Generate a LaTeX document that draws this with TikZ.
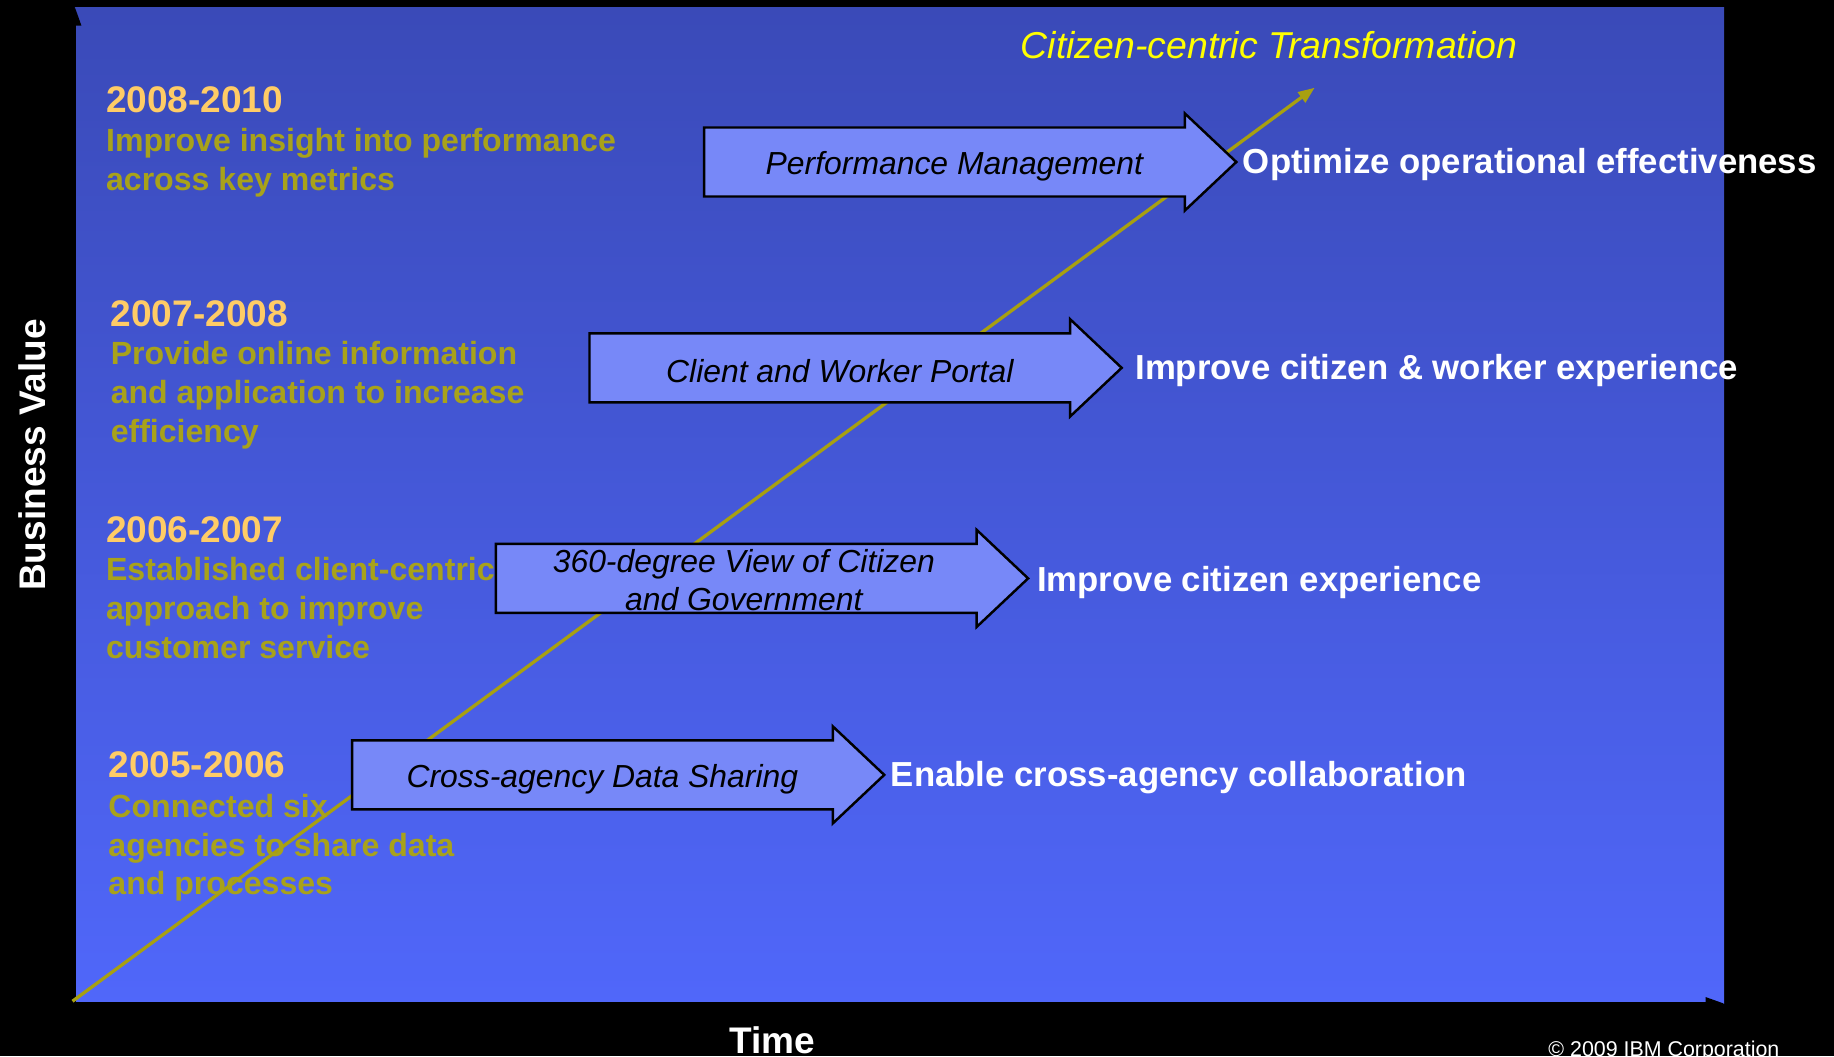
\documentclass[tikz,border=0pt]{standalone}
\usepackage{fontspec}
\setmainfont{Liberation Sans}
\usepackage{tikz}
\usetikzlibrary{arrows.meta}
\definecolor{paneltop}{HTML}{3A4AB8}
\definecolor{panelbottom}{HTML}{5067FA}
\definecolor{boxfill}{HTML}{7788F8}
\definecolor{goalolive}{HTML}{A8A21A}
\definecolor{yeargold}{HTML}{FFCC66}
\definecolor{titleyellow}{HTML}{FFFF00}
\definecolor{trendolive}{HTML}{A8A010}

\begin{document}
\begin{tikzpicture}[x=0.01cm, y=-0.01cm,
  year/.style={anchor=west, inner sep=0pt, text=yeargold,
    font=\fontsize{9}{11}\selectfont\bfseries},
  goal/.style={anchor=north west, inner sep=0pt, align=left, text=goalolive,
    font=\fontsize{7.8}{9.47}\selectfont\bfseries},
  result/.style={anchor=west, inner sep=0pt, text=white,
    font=\fontsize{8.45}{10}\selectfont\bfseries},
  boxlabel/.style={inner sep=0pt, align=center,
    font=\fontsize{7.75}{9.1}\selectfont\itshape},
  boxarrow/.style={draw=black, fill=boxfill, line width=0.6pt},
  axislabel/.style={text=white, font=\fontsize{9}{11}\selectfont\bfseries},
  trend/.style={draw=trendolive, line width=0.8pt,
    -{Triangle[length=4pt, width=3pt]}},
  axis/.style={draw=black, line width=0.6pt,
    -{Triangle[length=4.5pt, width=3pt]}}]

  % Fondo e pannello
  \fill[black] (0,0) rectangle (1568,903);
  \useasboundingbox (0,0) rectangle (1568,903);
  \shade[top color=paneltop, bottom color=panelbottom] (64,6) rectangle (1474,858);

  % Assi
  \coordinate (O) at (64,858);
  \coordinate (Ytop) at (64,6);
  \coordinate (Xend) at (1474,858);
  \draw[axis] (O) -- (Ytop);
  \draw[axis] (O) -- (Xend);

  % Linea di tendenza
  \coordinate (start) at (62,856);
  \coordinate (peak) at (1124,75);
  \draw[trend] (start) -- (peak);

  % Frecce blocco
  \draw[boxarrow] (602,109) -- ++(411,0) -- ++(0,-12) -- ++(44,41.5)
    -- ++(-44,41.5) -- ++(0,-12) -- ++(-411,0) -- cycle;
  \draw[boxarrow] (504,285) -- ++(411,0) -- ++(0,-12) -- ++(44,41.5)
    -- ++(-44,41.5) -- ++(0,-12) -- ++(-411,0) -- cycle;
  \draw[boxarrow] (424,465) -- ++(411,0) -- ++(0,-12) -- ++(44,41.5)
    -- ++(-44,41.5) -- ++(0,-12) -- ++(-411,0) -- cycle;
  \draw[boxarrow] (301,633) -- ++(411,0) -- ++(0,-12) -- ++(44,41.5)
    -- ++(-44,41.5) -- ++(0,-12) -- ++(-411,0) -- cycle;

  % Etichette frecce
  \node[boxlabel] (perf)   at (816,142) {Performance Management};
  \node[boxlabel] (portal) at (718,317) {Client and Worker Portal};
  \node[boxlabel] (view)   at (636,496) {360-degree View of Citizen\\and Government};
  \node[boxlabel] (share)  at (515,666) {Cross-agency Data Sharing};

  % Risultati
  \node[result] (optimize) at (1062,141) {Optimize operational effectiveness};
  \node[result] (worker)   at (970,317)  {Improve citizen \& worker experience};
  \node[result] (citizen)  at (886,498)  {Improve citizen experience};
  \node[result] (enable)   at (761,665)  {Enable cross-agency collaboration};

  % Periodi
  \node[year] (y08) at (90,85)  {2008-2010};
  \node[goal] (g08) at (90,109) {Improve insight into performance\\across key metrics};
  \node[year] (y07) at (94,268) {2007-2008};
  \node[goal] (g07) at (94,291) {Provide online information\\and application to increase\\efficiency};
  \node[year] (y06) at (90,453) {2006-2007};
  \node[goal] (g06) at (90,476) {Established client-centric\\approach to improve\\customer service};
  \node[year] (y05) at (92,654) {2005-2006};
  \node[goal] (g05) at (92,678) {Connected six\\agencies to share data\\and processes};

  % Titolo e assi
  \node[text=titleyellow, font=\fontsize{9.1}{11}\selectfont\itshape] (title)
    at (1085,39) {Citizen-centric Transformation};
  \node[axislabel] (time) at (660,889) {Time};
  \node[axislabel, rotate=90] (value) at (28,389) {Business Value};
  \node[anchor=base east, inner sep=0pt, text=white,
    font=\fontsize{5.2}{6}\selectfont] (copy) at (1522,903)
    {\textcopyright{} 2009 IBM Corporation};
\end{tikzpicture}
\end{document}
